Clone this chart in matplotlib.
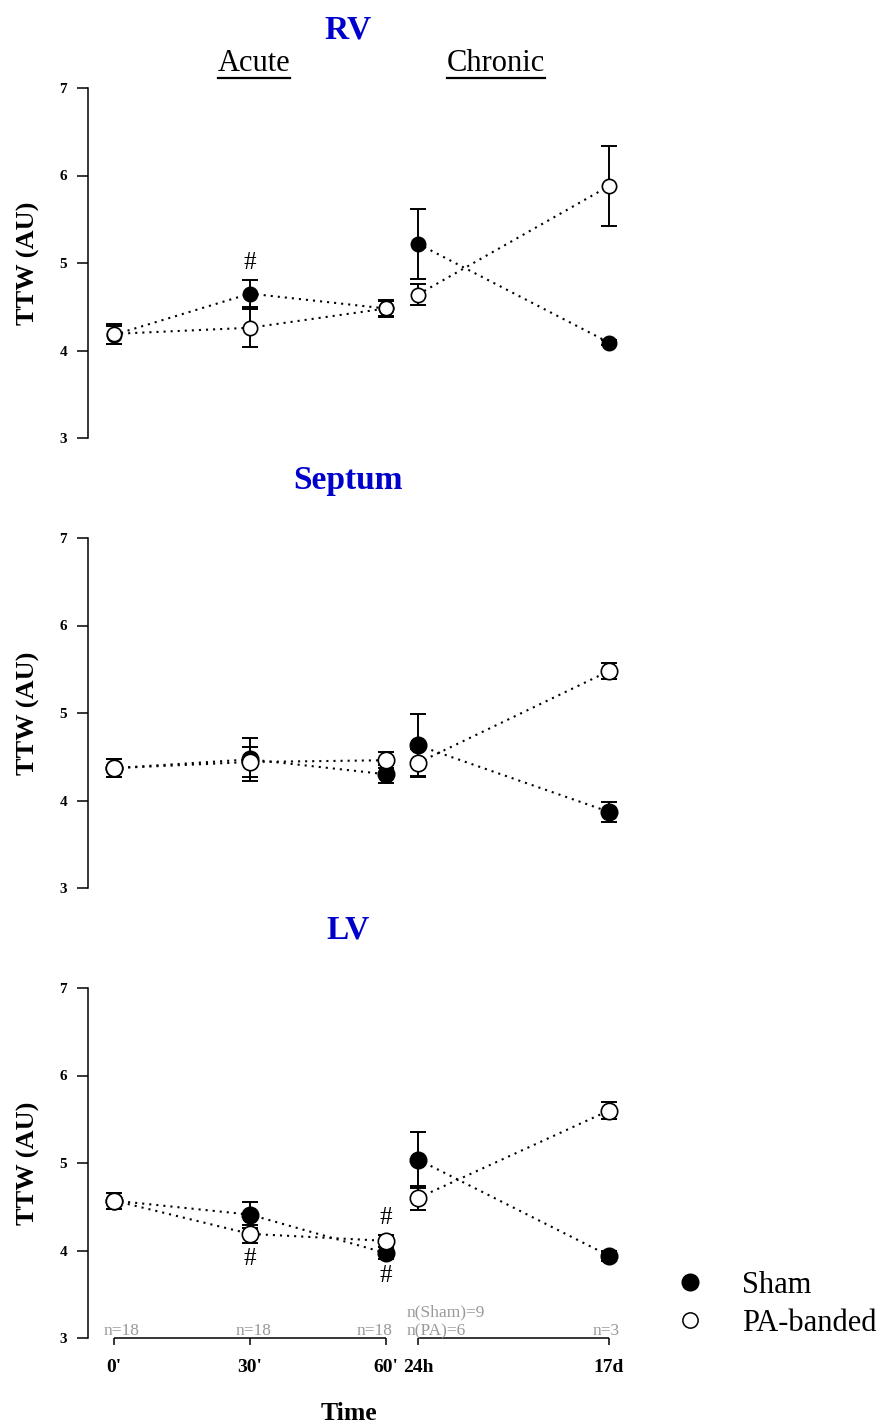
import matplotlib
matplotlib.use('Agg')
import matplotlib.pyplot as plt
from matplotlib.lines import Line2D

plt.rcParams['font.family'] = ['Liberation Serif', 'DejaVu Serif']

# time points and panels
times = ["0'", "30'", "60'", "24h", "17d"]
xpos = [0, 1, 2, 2.235, 3.64]   # 60' and 24h sit close together
panels = ['RV', 'Septum', 'LV']
n_labels = ['n=18', 'n=18', 'n=18', 'n(Sham)=9\nn(PA)=6', 'n=3']

# means and SEM (TTW, AU)
rv_sham = [4.18, 4.65, 4.48, 5.22, 4.09]
rv_sham_sem = [0.10, 0.155, 0.09, 0.40, 0.03]
rv_pa = [4.19, 4.26, 4.48, 4.64, 5.88]
rv_pa_sem = [0.115, 0.22, 0.095, 0.115, 0.46]

sep_sham = [4.37, 4.47, 4.30, 4.63, 3.87]
sep_sham_sem = [0.10, 0.245, 0.105, 0.355, 0.11]
sep_pa = [4.37, 4.44, 4.46, 4.43, 5.48]
sep_pa_sem = [0.10, 0.17, 0.09, 0.16, 0.095]

lv_sham = [4.57, 4.41, 3.97, 5.04, 3.94]
lv_sham_sem = [0.09, 0.15, 0.07, 0.32, 0.06]
lv_pa = [4.57, 4.19, 4.11, 4.60, 5.60]
lv_pa_sem = [0.09, 0.10, 0.07, 0.135, 0.10]

sham_all = [rv_sham, sep_sham, lv_sham]
sham_sem_all = [rv_sham_sem, sep_sham_sem, lv_sham_sem]
pa_all = [rv_pa, sep_pa, lv_pa]
pa_sem_all = [rv_pa_sem, sep_pa_sem, lv_pa_sem]

# significance marks: (panel, group, time index, up/down)
sig_marks = [(0, 'sham', 1, 1), (2, 'pa', 1, -1), (2, 'pa', 2, 1), (2, 'sham', 2, -1)]

W, H = 880, 1423
fig = plt.figure(figsize=(W / 100, H / 100), dpi=100)

def fx(px):
    return px / W

def fy(py):
    return 1 - py / H

ax_left, ax_right = 88, 700
x0_px, unit_px = 114, 136
panel_tops = [88, 538, 988]
panel_h = 350
title_y = [30, 480, 930]
blue = '#0000CD'
dots = (0, (1, 2.4))
segments = [slice(0, 3), slice(3, 5)]

axes = []
for i, name in enumerate(panels):
    ax = fig.add_axes([fx(ax_left), fy(panel_tops[i] + panel_h),
                       fx(ax_right) - fx(ax_left), panel_h / H])
    axes.append(ax)
    ax.set_xlim((ax_left - x0_px) / unit_px, (ax_right - x0_px) / unit_px)
    ax.set_ylim(3, 7)
    for s in ['top', 'right', 'bottom']:
        ax.spines[s].set_visible(False)
    ax.spines['left'].set_linewidth(1.1)
    ax.set_yticks([3, 4, 5, 6, 7])
    ax.tick_params(axis='y', length=8, width=1.1, pad=7, labelsize=11)
    for lab in ax.get_yticklabels():
        lab.set_fontweight('bold')
    ax.set_ylabel('TTW (AU)', fontsize=19, fontweight='bold')
    ax.yaxis.set_label_coords((40 - ax_left) / (ax_right - ax_left), 0.5)

    ms = 10.3 if i == 0 else 11.8
    sham, sham_sem = sham_all[i], sham_sem_all[i]
    pa, pa_sem = pa_all[i], pa_sem_all[i]

    for seg in segments:
        ax.plot(xpos[seg], sham[seg], linestyle=dots, color='black', lw=1.5, zorder=1)
        ax.plot(xpos[seg], pa[seg], linestyle=dots, color='black', lw=1.5, zorder=1)

    ax.errorbar(xpos, sham, yerr=sham_sem, fmt='none', ecolor='black',
                elinewidth=1.4, capsize=6, capthick=1.4, zorder=2)
    ax.plot(xpos, sham, 'o', ms=ms, mfc='black', mec='black', mew=1.2, zorder=3)
    ax.errorbar(xpos, pa, yerr=pa_sem, fmt='none', ecolor='black',
                elinewidth=1.4, capsize=6, capthick=1.4, zorder=4)
    ax.plot(xpos, pa, 'o', ms=ms, mfc='white', mec='black', mew=1.2, zorder=5)

    fig.text(fx(348), fy(title_y[i]), name, color=blue, fontsize=24,
             fontweight='bold', ha='center', va='center')

    if i < 2:
        ax.set_xticks([])
    else:
        ax.set_xticks(xpos, times)
        ax.tick_params(axis='x', length=5, width=1.1, pad=10, labelsize=14)
        for lab in ax.get_xticklabels():
            lab.set_fontweight('bold')
        for seg in segments:
            ax.plot([xpos[seg][0], xpos[seg][-1]], [3, 3], color='black',
                    lw=1.1, clip_on=False, solid_capstyle='butt')
        ax.set_xlabel('Time', fontsize=18.5, fontweight='bold')
        ax.xaxis.set_label_coords((349 - ax_left) / (ax_right - ax_left),
                                  -(1402 - 1338) / panel_h)

# significance marks
for p, grp, k, d in sig_marks:
    ax = axes[p]
    m = sham_all[p] if grp == 'sham' else pa_all[p]
    e = sham_sem_all[p] if grp == 'sham' else pa_sem_all[p]
    ax.annotate('#', (xpos[k], m[k] + d * e[k]), xytext=(0, d * 12),
                textcoords='offset points', ha='center', va='center',
                fontsize=18, zorder=6, annotation_clip=False)

# group sizes under the LV panel
n_place = [('center', 7.5), ('center', 4), ('right', 6.5), ('left', -11), ('center', -2.5)]
ax = axes[2]
for k, lab in enumerate(n_labels):
    ha, dx = n_place[k]
    lines = lab.split('\n')
    for j, line in enumerate(reversed(lines)):
        ax.annotate(line, (xpos[k], 3), xytext=(dx * 0.72, 2.2 + j * 13.2),
                    textcoords='offset points', ha=ha, va='baseline',
                    fontsize=12.5, color='#999999', annotation_clip=False)

# Acute / Chronic headers (underlined)
headers = [('Acute', 254), ('Chronic', 496)]
htexts = []
for txt, xc in headers:
    htexts.append(fig.text(fx(xc), fy(63.5), txt, fontsize=22, ha='center', va='center'))
fig.canvas.draw()
r = fig.canvas.get_renderer()
for t in htexts:
    bb = t.get_window_extent(r)
    fig.add_artist(Line2D([bb.x0 / W, bb.x1 / W], [fy(77.5)] * 2,
                          transform=fig.transFigure, color='black', lw=1.6))

# legend
handles = [Line2D([], [], linestyle='none', marker='o', ms=12, mfc='black', mec='black'),
           Line2D([], [], linestyle='none', marker='o', ms=11, mfc='white', mec='black', mew=1.1)]
fig.legend(handles, ['Sham', 'PA-banded'], loc='center left',
           bbox_to_anchor=(fx(675), fy(1304.5)), frameon=False, fontsize=22,
           handlelength=1.0, handletextpad=1.2, labelspacing=0.3,
           borderpad=0, borderaxespad=0)

fig.savefig('out.png', dpi=100)
